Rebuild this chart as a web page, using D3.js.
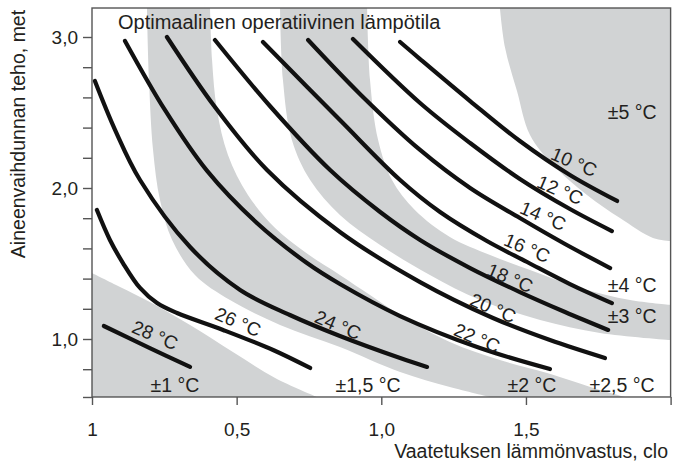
<!DOCTYPE html>
<html>
<head>
<meta charset="utf-8">
<script src="https://cdn.jsdelivr.net/npm/d3@7"></script>
<style>
	body { margin: 0; background: #fff; }
	svg text { font-family: "Liberation Sans", Arial, Helvetica, sans-serif; fill: #231f20; }
</style>
</head>
<body>
<div id="chart"></div>
<script>
// Axis ticks
var xTickValues = [0, 0.5, 1.0, 1.5, 2.0];
var xTickLabels = ["1", "0,5", "1,0", "1,5", ""];
var yTickValues = [0.616, 0.8, 1.0, 1.2, 1.4, 1.6, 1.8, 2.0, 2.2, 2.4, 2.6, 2.8, 3.0];
var yLabelValues = [1, 2, 3];
var yLabelText = ["1,0", "2,0", "3,0"];

// Optimal operative temperature curves, [clo, met]
var curveTemps = ["10 °C", "12 °C", "14 °C", "16 °C", "18 °C", "20 °C", "22 °C", "24 °C", "26 °C", "28 °C"];
var curve10 = [[1.065,2.967],[1.134,2.854],[1.307,2.576],[1.479,2.311],[1.652,2.086],[1.815,1.914]];
var curve12 = [[0.902,2.987],[1.134,2.563],[1.307,2.298],[1.479,2.060],[1.652,1.861],[1.797,1.715]];
var curve14 = [[0.747,2.980],[0.926,2.623],[1.134,2.252],[1.307,2.000],[1.479,1.801],[1.635,1.629],[1.791,1.470]];
var curve16 = [[0.591,2.967],[0.857,2.450],[1.065,2.053],[1.203,1.841],[1.365,1.649],[1.504,1.510],[1.652,1.364],[1.797,1.238]];
var curve18 = [[0.425,2.980],[0.615,2.543],[0.823,2.119],[0.996,1.841],[1.134,1.656],[1.307,1.470],[1.479,1.311],[1.635,1.179],[1.784,1.060]];
var curve20 = [[0.259,3.000],[0.425,2.536],[0.605,2.119],[0.857,1.709],[1.134,1.377],[1.386,1.139],[1.583,0.993],[1.773,0.874]];
var curve22 = [[0.114,2.974],[0.252,2.517],[0.398,2.113],[0.570,1.768],[0.743,1.503],[0.857,1.364],[1.065,1.152],[1.341,0.940],[1.583,0.801]];
var curve24 = [[0.010,2.709],[0.080,2.384],[0.166,2.053],[0.339,1.609],[0.512,1.325],[0.684,1.159],[0.857,1.020],[1.065,0.874],[1.158,0.815]];
var curve26 = [[0.017,1.854],[0.062,1.656],[0.107,1.503],[0.166,1.338],[0.225,1.238],[0.294,1.172],[0.453,1.060],[0.626,0.927],[0.754,0.808]];
var curve28 = [[0.041,1.086],[0.200,0.940],[0.339,0.815]];
// where each temperature label sits (label centre, [clo, met])
var curveLabelAt = [[1.666,2.172],[1.618,1.987],[1.559,1.815],[1.504,1.603],[1.445,1.404],[1.386,1.205],[1.331,1.007],[0.850,1.093],[0.505,1.113],[0.218,1.026]];

// Tolerance zones (grey bands), [clo, met]
var zone1Edge = [[0,1.437],[0.097,1.344],[0.200,1.245],[0.339,1.093],[0.487,0.914],[0.633,0.742],[0.778,0.616]];
var zone2Low = [[0.190,3.192],[0.197,2.715],[0.211,2.252],[0.235,1.921],[0.277,1.656],[0.356,1.424],[0.477,1.258],[0.650,1.093],[0.857,0.947],[1.065,0.781],[1.237,0.682],[1.376,0.616]];
var zone2High = [[0.408,3.192],[0.415,2.848],[0.432,2.517],[0.470,2.219],[0.539,1.954],[0.633,1.735],[0.736,1.576],[0.857,1.424],[0.961,1.291],[1.065,1.159],[1.237,0.980],[1.410,0.861],[1.573,0.775],[1.756,0.662],[1.842,0.616]];
var zone3Low = [[0.650,3.192],[0.660,2.715],[0.691,2.318],[0.754,2.053],[0.857,1.821],[0.996,1.623],[1.168,1.424],[1.341,1.258],[1.549,1.126],[1.756,1.040],[2.0,0.993]];
var zone3High = [[0.951,3.192],[0.961,2.715],[0.989,2.318],[1.037,2.053],[1.116,1.854],[1.237,1.675],[1.376,1.556],[1.514,1.457],[1.687,1.338],[1.860,1.258],[2.0,1.225]];
var zone5Edge = [[1.410,3.192],[1.428,2.927],[1.469,2.642],[1.514,2.351],[1.594,2.152],[1.711,1.954],[1.825,1.801],[1.939,1.669],[2.0,1.649]];
var toleranceText = ["±1 °C", "±1,5 °C", "±2 °C", "±2,5 °C", "±3 °C", "±4 °C", "±5 °C"];
var toleranceAt = [[0.287,0.695],[0.954,0.695],[1.521,0.695],[1.832,0.695],[1.867,1.152],[1.867,1.358],[1.867,2.503]];

var xMin = 0, xMax = 2.0, yMin = 0.616, yMax = 3.192;

var svg = d3.select("#chart").append("svg")
	.attr("width", 673)
	.attr("height", 466);

var x = d3.scaleLinear().domain([0, 2]).range([92, 670.6]);
var y = d3.scaleLinear().domain([1, 3]).range([339, 37]);

svg.append("clipPath").attr("id", "plot-clip")
	.append("rect")
	.attr("x", x(xMin)).attr("y", y(yMax))
	.attr("width", x(xMax) - x(xMin))
	.attr("height", y(yMin) - y(yMax));

var smooth = d3.line()
	.x(function(d) { return x(d[0]); })
	.y(function(d) { return y(d[1]); })
	.curve(d3.curveCatmullRom.alpha(0.5));

// band between two edges: one edge forward, the other backward
function bandPath(low, high) {
	return smooth(low) + smooth(high.slice().reverse()).replace(/^M/, "L") + "Z";
}
function cornerPath(edge, corner) {
	return smooth(edge) + "L" + x(corner[0]) + "," + y(corner[1]) + "Z";
}

var zones = svg.append("g").attr("clip-path", "url(#plot-clip)");
var grey = "#d1d3d4";
zones.append("path").attr("d", cornerPath(zone1Edge, [xMin, yMin])).attr("fill", grey);
zones.append("path").attr("d", bandPath(zone2Low, zone2High)).attr("fill", grey);
zones.append("path").attr("d", bandPath(zone3Low, zone3High)).attr("fill", grey);
zones.append("path").attr("d", cornerPath(zone5Edge, [xMax, yMax])).attr("fill", grey);

// Temperature curves
var curves = [curve10, curve12, curve14, curve16, curve18, curve20, curve22, curve24, curve26, curve28];
svg.append("g").selectAll(".temp-curve")
	.data(curves)
	.enter()
	.append("path")
	.attr("class", "temp-curve")
	.attr("d", smooth)
	.attr("fill", "none")
	.attr("stroke", "#111")
	.attr("stroke-width", 4.2)
	.attr("stroke-linecap", "round");

svg.append("g").selectAll(".temp-label")
	.data(curveTemps)
	.enter()
	.append("text")
	.attr("class", "temp-label")
	.attr("transform", function(d, i) {
		var p = curveLabelAt[i];
		return "translate(" + x(p[0]) + "," + y(p[1]) + ") rotate(23)";
	})
	.attr("text-anchor", "middle")
	.attr("dy", "0.35em")
	.style("font-size", "19px")
	.text(function(d) { return d; });

svg.append("g").selectAll(".tol-label")
	.data(toleranceText)
	.enter()
	.append("text")
	.attr("class", "tol-label")
	.attr("x", function(d, i) { return x(toleranceAt[i][0]); })
	.attr("y", function(d, i) { return y(toleranceAt[i][1]); })
	.attr("text-anchor", "middle")
	.attr("dy", "0.35em")
	.style("font-size", "19.5px")
	.text(function(d) { return d; });

// Frame
svg.append("rect")
	.attr("x", x(xMin)).attr("y", y(yMax))
	.attr("width", x(xMax) - x(xMin))
	.attr("height", y(yMin) - y(yMax))
	.attr("fill", "none")
	.attr("stroke", "#555")
	.attr("stroke-width", 1.4);

// Axes
var xAxis = svg.append("g")
	.attr("transform", "translate(0," + y(yMin) + ")")
	.call(d3.axisBottom(x)
		.tickValues(xTickValues)
		.tickFormat(function(d, i) { return xTickLabels[i]; })
		.tickSize(8).tickSizeOuter(0).tickPadding(18));

var yAxis = svg.append("g")
	.attr("transform", "translate(" + x(xMin) + ",0)")
	.call(d3.axisLeft(y)
		.tickValues(yTickValues)
		.tickFormat(function(d) {
			var k = yLabelValues.indexOf(Math.round(d * 10) / 10);
			return k < 0 ? "" : yLabelText[k];
		})
		.tickSize(9).tickSizeOuter(0).tickPadding(5));

[xAxis, yAxis].forEach(function(g) {
	g.select(".domain").remove();
	g.selectAll(".tick line").attr("stroke", "#555").attr("stroke-width", 1.4);
	g.selectAll(".tick text")
		.attr("fill", "#231f20")
		.style("font-size", "19px")
		.style("font-family", '"Liberation Sans", Arial, Helvetica, sans-serif');
});

// Titles
svg.append("text")
	.attr("x", 118).attr("y", 29)
	.style("font-size", "20px")
	.text("Optimaalinen operatiivinen lämpötila");

svg.append("text")
	.attr("x", 668).attr("y", 458)
	.attr("text-anchor", "end")
	.style("font-size", "19.5px")
	.text("Vaatetuksen lämmönvastus, clo");

svg.append("text")
	.attr("transform", "translate(25,134) rotate(-90)")
	.attr("text-anchor", "middle")
	.style("font-size", "19.5px")
	.text("Aineenvaihdunnan teho, met");
</script>
</body>
</html>
